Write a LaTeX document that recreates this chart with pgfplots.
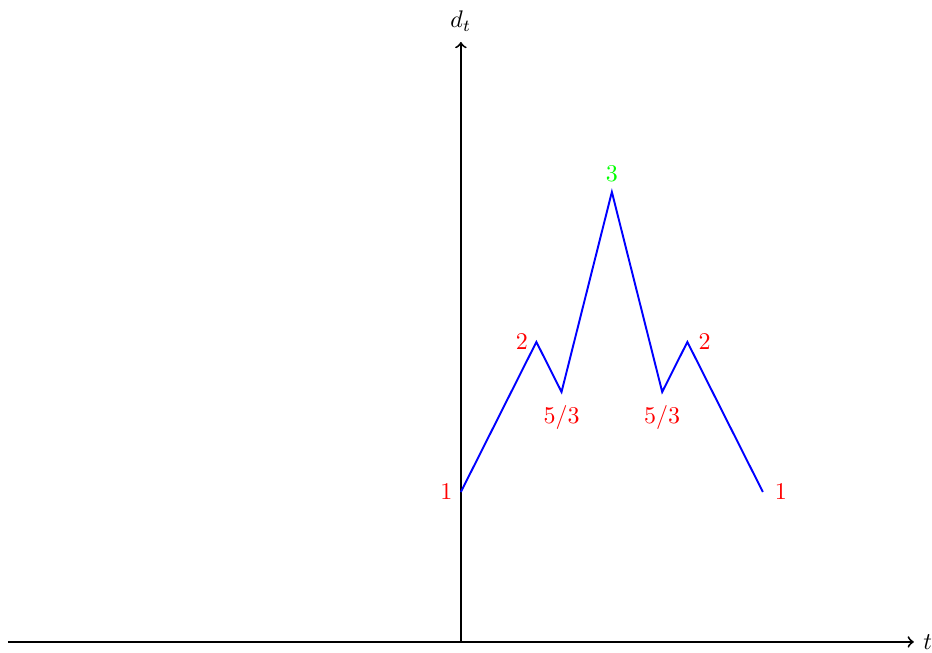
\documentclass[border=0pt]{standalone}
\usepackage{pgfplots}
\pgfplotsset{compat=1.18}

\begin{document}
\begin{tikzpicture}
\begin{axis}[
    scale only axis,
    width=377.5pt,
    height=250pt,
    xmin=-18, xmax=18,
    ymin=0, ymax=4,
    axis lines=middle,
    axis line style={thick, -to},
    xtick=\empty,
    ytick=\empty,
    xlabel={$t$},
    ylabel={$d_t$},
    every axis x label/.style={at={(current axis.right of origin)}, anchor=west, inner sep=0pt, xshift=3.7pt},
    every axis y label/.style={at={(current axis.above origin)}, anchor=south, yshift=1pt},
    clip=false,
]
\addplot[blue, thick] coordinates {
(0,1)
(3,2)
(4,1.6667)
(6,3)
(8,1.6667)
(9,2)
(12,1)
};
\node[red, anchor=east] at (axis cs:0,1) {$1$};
\node[red, anchor=east] at (axis cs:3,2) {$2$};
\node[red, below=2pt] at (axis cs:4,1.6667) {$5/3$};
\node[green, above=1pt] at (axis cs:6,3) {$3$};
\node[red, below=2pt] at (axis cs:8,1.6667) {$5/3$};
\node[red, anchor=west, xshift=1.2pt] at (axis cs:9,2) {$2$};
\node[red, anchor=west, xshift=1.5pt] at (axis cs:12,1) {$1$};
\path (axis cs:-18,0) ++(-3.3pt,-4.2pt);
\path (axis cs:0,4) ++(0,17.5pt);
\end{axis}
\end{tikzpicture}
\end{document}
